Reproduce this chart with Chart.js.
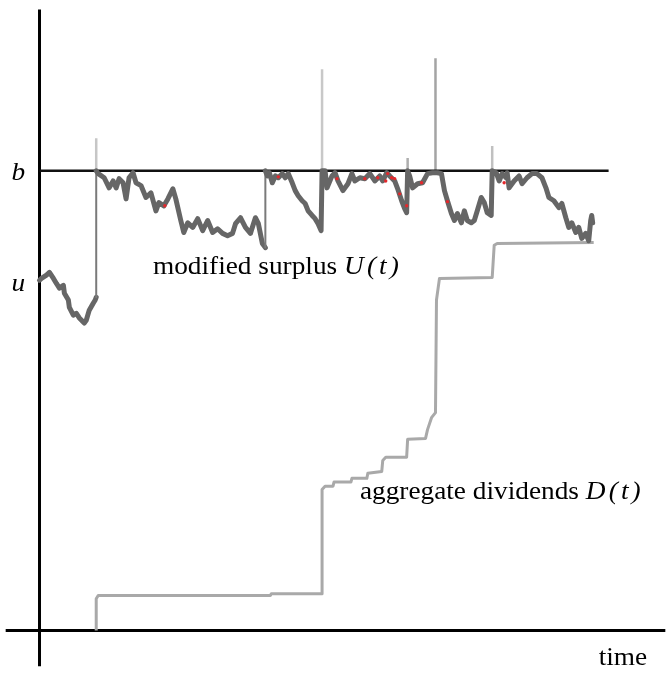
<!DOCTYPE html>
<html>
<head>
<meta charset="utf-8">
<title>Modified surplus and aggregate dividends</title>
<script src="https://cdn.jsdelivr.net/npm/chart.js@4.4.1/dist/chart.umd.min.js"></script>
<style>
  html, body { margin: 0; padding: 0; background: #fff; }
  #wrap { width: 671px; height: 674px; position: relative; }
</style>
</head>
<body>
<div id="wrap"><canvas id="surplusChart"></canvas></div>
<script>
/* =============================================================================
   Surplus process with barrier b and the aggregate dividends it pays out
   ============================================================================= */

// barrier and starting level
const barrierLevel = 100;
const initialSurplus = 76.2;

// modified surplus U(t): time / value (repeated time = upward jump to b)
const surplusTime = [
  0, 0.4, 1.4, 2.0, 2.8, 3.4, 4.0, 4.8, 5.0, 5.8, 6.0, 6.8, 7.4, 8.0, 9.0, 9.4, 10.0, 10.8, 11.2, 11.4,
  11.4, 11.8, 13.0, 14.0, 14.8, 15.4, 16.0, 16.8, 17.4, 18.0, 18.8, 19.4, 20.4, 21.4, 22.4, 23.4, 24.0,
  25.0, 25.8, 26.8, 27.4, 28.4, 29.0, 29.8, 30.8, 31.8, 32.8, 33.8, 34.8, 35.8, 36.8, 37.8, 38.8, 39.4,
  40.4, 41.4, 42.4, 43.4, 44.0, 44.8, 45.4,
  45.4, 45.8, 46.2, 46.8, 47.4, 48.0, 48.8, 49.4, 50.0, 50.8, 51.4, 52.0, 52.8, 53.4, 54.0, 54.8, 55.4,
  56.0, 56.6,
  56.8, 57.4, 57.8, 58.8, 59.4, 60.0, 61.0, 62.0, 62.8, 63.4, 64.4, 65.4, 66.4, 67.4, 68.4, 69.0, 69.8,
  70.4, 71.4, 72.0, 72.8, 73.4, 73.8,
  74.0, 74.4, 75.0, 76.0, 77.0, 78.0, 79.0, 80.0, 80.8, 81.4, 82.0, 82.8, 83.4, 84.0, 84.8, 85.4, 86.0,
  86.8, 87.4, 88.0, 88.8, 89.4, 90.0, 90.8,
  91.0, 91.8, 92.4, 93.0, 93.8, 94.0, 94.4, 95.4, 96.4, 97.0, 98.0, 99.0, 100.0, 101.0, 101.8, 102.4,
  103.4, 104.4, 105.0, 105.8, 106.4, 107.0, 107.8, 108.4, 109.0, 109.8, 110.4, 110.8, 111.0, 111.2
];
const surplusValue = [
  76.2, 76.6, 77.3, 77.9, 76.6, 75.5, 74.5, 75.1, 73.4, 71.9, 70.3, 68.6, 69.0, 68.0, 66.9, 67.5, 69.7, 71.2, 71.9, 72.5,
  100, 99.4, 98.5, 96.3, 97.8, 96.3, 98.3, 97.4, 93.9, 98.5, 99.6, 97.4, 96.8, 94.2, 95.2, 91.3, 93.1,
  92.4, 93.9, 96.1, 93.9, 89.2, 86.6, 88.7, 87.7, 89.6, 87.0, 89.2, 86.6, 87.4, 86.4, 85.9, 86.4, 88.5,
  89.8, 87.7, 86.4, 89.8, 88.5, 84.2, 83.3,
  100, 98.9, 99.6, 97.4, 98.9, 98.5, 99.4, 98.5, 99.4, 97.4, 95.7, 94.6, 93.5, 92.9, 91.3, 90.3, 89.6,
  88.5, 87.0,
  100, 100, 96.3, 98.9, 99.6, 97.8, 95.7, 97.2, 99.4, 97.8, 98.5, 98.3, 99.4, 97.8, 98.9, 97.8, 99.6,
  98.9, 97.8, 96.1, 93.5, 91.8, 90.9,
  100, 98.9, 96.3, 97.2, 97.4, 99.4, 99.6, 99.6, 99.4, 95.7, 93.5, 90.7, 89.2, 90.7, 88.7, 91.3, 89.2,
  88.7, 89.2, 91.3, 94.2, 93.1, 90.9, 90.3,
  100, 99.6, 97.8, 99.4, 98.5, 99.6, 96.3, 97.8, 98.9, 97.2, 98.5, 99.4, 99.4, 98.5, 96.3, 94.2,
  93.5, 92.0, 92.9, 89.8, 87.7, 88.7, 86.6, 87.7, 85.3, 86.4, 84.8, 89.2, 90.3, 88.7
];

// overshoot above b at each upward jump (paid out as dividend)
const spikeTime = [11.4, 56.8, 74.0, 79.6, 91.0];
const spikeTop = [107.1, 122.1, 102.8, 124.5, 105.4];

// aggregate dividends D(t)
const dividendTime = [
  11.4, 11.4, 11.8, 46.4, 46.6, 56.8, 56.8, 57.4, 59.0, 59.2, 62.6, 62.8, 65.8, 66.0, 68.8, 69.0, 69.6,
  73.8, 74.0, 77.6, 78.0, 78.8, 79.6, 79.8, 80.4, 91.0, 91.4, 92.0, 111.4
];
const dividendValue = [
  0, 6.9, 7.6, 7.6, 8.0, 8.0, 30.7, 31.4, 31.4, 32.3, 32.3, 33.1, 33.1, 34.2, 34.6, 37.0, 37.7,
  37.7, 41.6, 41.8, 43.7, 46.3, 47.4, 71.9, 76.6, 76.8, 83.8, 84.2, 84.4
];

// small red sample marks sitting on the path
const markTime = [25.2, 48.0, 59.8, 65.4, 68.0, 69.6, 70.0, 70.8, 71.4, 72.4, 73.8, 76.8, 82.0, 93.4];
const markValue = [92.4, 98.7, 98.3, 98.3, 98.5, 97.8, 99.4, 98.5, 98.3, 95.0, 92.4, 97.4, 93.3, 97.4];

// axis extents (data units)
const timeRange = [-7.6, 126.6];
const valueRange = [-9.09, 136.8];
const timeAxisLine = [-6.8, 125.8];
const valueAxisLine = [-7.8, 135.1];
const barrierEnd = 114.4;

// overshoot shades, one per spike
const spikeColors = ['#c6c6c6', '#c8c8c8', '#aeaeae', '#a4a4a4', '#c0c0c0'];

/**
 * Zip two arrays into {x, y} points
 */
function toPoints(xs, ys) {
  return xs.map((x, i) => ({ x: x, y: ys[i] }));
}

/**
 * Vertical overshoot segments, broken apart with nulls
 */
function spikePoints() {
  const pts = [];
  spikeTime.forEach((t, i) => {
    pts.push({ x: t, y: barrierLevel });
    pts.push({ x: t, y: spikeTop[i] });
    pts.push({ x: t, y: null });
  });
  return pts;
}

const isJump = (ctx) => ctx.p0.parsed.x === ctx.p1.parsed.x;

/**
 * Text labels drawn on top (b, u, series names, time)
 */
const labelPlugin = {
  id: 'labels',
  afterDraw(chart) {
    const ctx = chart.ctx;
    const xs = chart.scales.x;
    const ys = chart.scales.y;
    const stretch = 1.05;

    function put(parts, t, v, dx, dy) {
      let px = xs.getPixelForValue(t) + dx;
      const py = ys.getPixelForValue(v) + dy;
      parts.forEach(p => {
        ctx.save();
        ctx.font = p.font;
        ctx.letterSpacing = p.spacing || '0px';
        ctx.fillStyle = '#000';
        ctx.textBaseline = 'alphabetic';
        ctx.textAlign = 'left';
        ctx.translate(px, py);
        ctx.scale(stretch, 1);
        ctx.fillText(p.text, 0, 0);
        px += ctx.measureText(p.text).width * stretch;
        ctx.restore();
      });
    }

    const upright = '26px "Liberation Serif", "Times New Roman", serif';
    const italic = 'italic 26px "Liberation Serif", "Times New Roman", serif';

    put([{ text: 'b', font: italic }], 0, barrierLevel, -28, 9);
    put([{ text: 'u', font: italic }], 0, initialSurplus, -28, 11);
    put([{ text: 'modified surplus ', font: upright }, { text: 'U(t)', font: italic, spacing: '3px' }], 22.8, 77.5, 0, 0);
    put([{ text: 'aggregate dividends ', font: upright }, { text: 'D(t)', font: italic, spacing: '3px' }], 64.4, 28.6, 0, 0);
    put([{ text: 'time', font: upright }], 112.4, -7.6, 0, 0);
  }
};

/**
 * Render the surplus / dividends picture
 */
function renderSurplusChart(canvasId) {
  const canvas = document.getElementById(canvasId);
  if (!canvas) {
    console.error(`Canvas element with ID "${canvasId}" not found`);
    return null;
  }

  const datasets = [
    {
      label: 'marks',
      data: toPoints(markTime, markValue),
      showLine: false,
      pointRadius: 1.7,
      pointBackgroundColor: '#e4282c',
      pointBorderWidth: 0,
      order: 0
    },
    {
      label: 'U(t)',
      data: toPoints(surplusTime, surplusValue),
      borderColor: '#666666',
      borderWidth: 5,
      borderJoinStyle: 'round',
      borderCapStyle: 'round',
      segment: {
        borderWidth: ctx => isJump(ctx) ? 2 : 5,
        borderColor: ctx => isJump(ctx) ? '#7a7a7a' : '#666666'
      },
      order: 1
    },
    {
      label: 'b',
      data: [{ x: 0, y: barrierLevel }, { x: barrierEnd, y: barrierLevel }],
      borderColor: '#111',
      borderWidth: 2.5,
      order: 2
    },
    {
      label: 'D(t)',
      data: toPoints(dividendTime, dividendValue),
      borderColor: '#a9a9a9',
      borderWidth: 3,
      borderJoinStyle: 'round',
      order: 3
    },
    {
      label: 'overshoot',
      data: spikePoints(),
      borderWidth: 2.5,
      spanGaps: false,
      segment: {
        borderColor: ctx => spikeColors[Math.floor(ctx.p0DataIndex / 3)]
      },
      order: 4
    },
    {
      label: 'time axis',
      data: [{ x: timeAxisLine[0], y: 0 }, { x: timeAxisLine[1], y: 0 }],
      borderColor: '#000',
      borderWidth: 3,
      order: 5
    },
    {
      label: 'value axis',
      data: [{ x: 0, y: valueAxisLine[0] }, { x: 0, y: valueAxisLine[1] }],
      borderColor: '#000',
      borderWidth: 3,
      order: 5
    }
  ];

  const options = {
    responsive: true,
    maintainAspectRatio: false,
    animation: false,
    layout: { padding: 0 },
    elements: {
      point: { radius: 0, hoverRadius: 0 },
      line: { tension: 0, fill: false }
    },
    plugins: {
      legend: { display: false },
      tooltip: { enabled: false }
    },
    scales: {
      x: { type: 'linear', min: timeRange[0], max: timeRange[1], display: false },
      y: { type: 'linear', min: valueRange[0], max: valueRange[1], display: false }
    }
  };

  return new Chart(canvas.getContext('2d'), {
    type: 'line',
    data: { datasets: datasets },
    options: options,
    plugins: [labelPlugin]
  });
}

window.surplusChart = renderSurplusChart('surplusChart');
</script>
</body>
</html>
